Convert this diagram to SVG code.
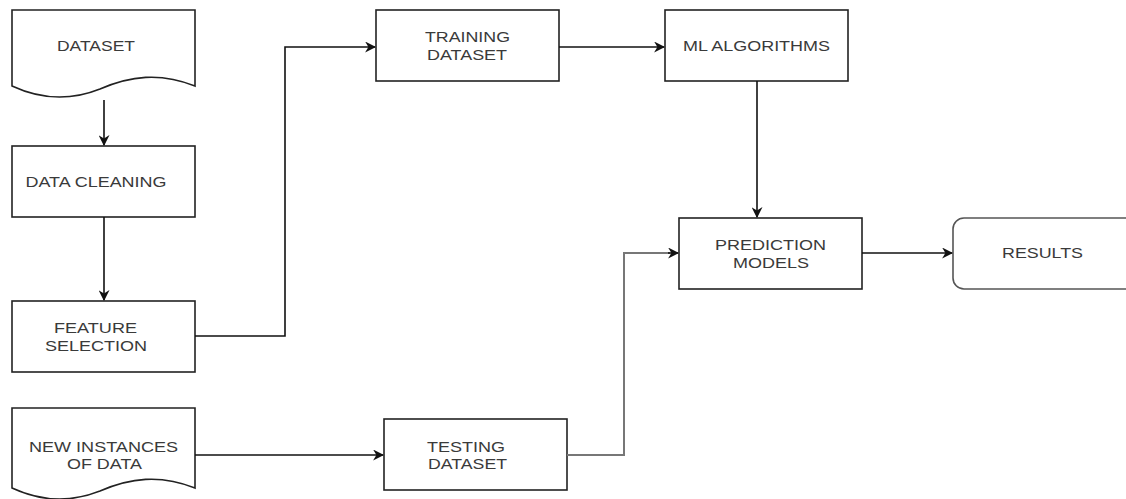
<svg xmlns="http://www.w3.org/2000/svg" width="1126" height="499" viewBox="0 0 1126 499">
<defs>
<style>
.box{fill:#fff;stroke:#222;stroke-width:1.6}
.t{font-family:"Liberation Sans",Arial,sans-serif;font-size:15.5px;fill:#3a3a3a;text-anchor:middle}
.c{fill:none;stroke:#111;stroke-width:1.6}
.g{fill:none;stroke:#777;stroke-width:2}
</style>
<marker id="ah" viewBox="0 0 10 10" refX="9" refY="5" markerWidth="11" markerHeight="11" markerUnits="userSpaceOnUse" orient="auto">
<path d="M0,0 L10,5 L0,10 L3,5 Z" fill="#111"/>
</marker>
</defs>
<rect width="1126" height="499" fill="#fff"/>
<g id="dataset">
<path class="box" d="M12,10 H195 V86 C160,72 130,76 100,89 C70,101 40,99 12,86 Z"/>
<text class="t" x="96" y="51" textLength="78" lengthAdjust="spacingAndGlyphs">DATASET</text>
</g>
<g id="data-cleaning">
<rect class="box" x="12" y="146" width="183" height="71"/>
<text class="t" x="96" y="187" textLength="141" lengthAdjust="spacingAndGlyphs">DATA CLEANING</text>
</g>
<g id="feature-selection">
<rect class="box" x="12" y="301" width="183" height="71"/>
<text class="t" x="95.5" y="333" textLength="83" lengthAdjust="spacingAndGlyphs">FEATURE</text>
<text class="t" x="96" y="351" textLength="102" lengthAdjust="spacingAndGlyphs">SELECTION</text>
</g>
<g id="new-instances">
<path class="box" d="M12,408 H195 V488 C160,474 130,478 100,491 C70,503 40,501 12,488 Z"/>
<text class="t" x="103.5" y="452" textLength="149" lengthAdjust="spacingAndGlyphs">NEW INSTANCES</text>
<text class="t" x="104.5" y="469" textLength="75" lengthAdjust="spacingAndGlyphs">OF DATA</text>
</g>
<g id="training-dataset">
<rect class="box" x="376" y="10" width="183" height="71"/>
<text class="t" x="467.5" y="42" textLength="85" lengthAdjust="spacingAndGlyphs">TRAINING</text>
<text class="t" x="467" y="60" textLength="80" lengthAdjust="spacingAndGlyphs">DATASET</text>
</g>
<g id="ml-algorithms">
<rect class="box" x="665" y="10" width="183" height="71"/>
<text class="t" x="756.5" y="51" textLength="147" lengthAdjust="spacingAndGlyphs">ML ALGORITHMS</text>
</g>
<g id="prediction-models">
<rect class="box" x="679" y="218" width="183" height="71"/>
<text class="t" x="770.5" y="250" textLength="111" lengthAdjust="spacingAndGlyphs">PREDICTION</text>
<text class="t" x="771" y="268" textLength="76" lengthAdjust="spacingAndGlyphs">MODELS</text>
</g>
<g id="results">
<rect x="953" y="218" width="185" height="71" rx="11" ry="11" fill="#fff" stroke="#555" stroke-width="1.6"/>
<text class="t" x="1042.5" y="258" textLength="81" lengthAdjust="spacingAndGlyphs">RESULTS</text>
</g>
<g id="testing-dataset">
<rect class="box" x="384" y="419" width="183" height="71"/>
<text class="t" x="466" y="452" textLength="78" lengthAdjust="spacingAndGlyphs">TESTING</text>
<text class="t" x="467.5" y="469" textLength="79" lengthAdjust="spacingAndGlyphs">DATASET</text>
</g>
<g id="connectors">
<path class="c" d="M104,100 V145" marker-end="url(#ah)"/>
<path class="c" d="M104,217 V300" marker-end="url(#ah)"/>
<path class="c" d="M195,336 H285 V47 H375" marker-end="url(#ah)"/>
<path class="c" d="M559,47 H664" marker-end="url(#ah)"/>
<path class="c" d="M757,81 V217" marker-end="url(#ah)"/>
<path class="c" d="M862,253 H952" marker-end="url(#ah)"/>
<path class="c" d="M195,455 H383" marker-end="url(#ah)"/>
<path class="g" d="M567,455 H624 V253 H670"/>
<path class="c" d="M668,253 H678" marker-end="url(#ah)"/>
</g>
</svg>
